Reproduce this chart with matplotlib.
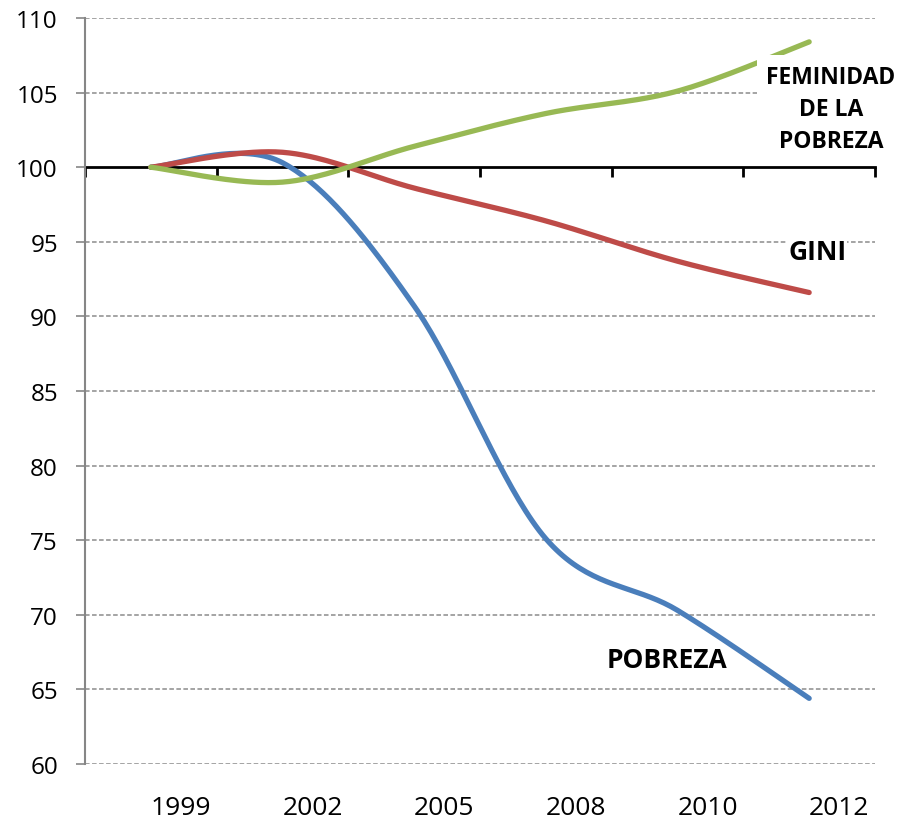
import matplotlib
matplotlib.use("Agg")
import matplotlib.pyplot as plt
import numpy as np

plt.rcParams['font.family'] = ['Open Sans', 'DejaVu Sans']

# datos (indice base 1999 = 100)
years = ['1999', '2002', '2005', '2008', '2010', '2012']
pobreza = [100.0, 100.3, 90.7, 75.1, 70.3, 64.4]
gini = [100.0, 101.0, 98.6, 96.4, 93.7, 91.6]
feminidad = [100.0, 99.0, 101.4, 103.6, 105.1, 108.4]

blue = '#4A7EBB'
red = '#BE4B48'
green = '#98B954'
grid_gray = '#8C8C8C'


def excel_smooth(xs, ys, n=40):
    # curva suavizada tipo Excel (bezier con puntos de control a 1/6)
    pts = np.column_stack([xs, ys]).astype(float)
    P = np.vstack([pts[0], pts, pts[-1]])
    out = []
    t = np.linspace(0, 1, n)[:, None]
    for i in range(1, len(P) - 2):
        p0, p1, p2, p3 = P[i - 1], P[i], P[i + 1], P[i + 2]
        c1 = p1 + (p2 - p0) / 6
        c2 = p2 - (p3 - p1) / 6
        seg = (1 - t)**3 * p1 + 3 * (1 - t)**2 * t * c1 + 3 * (1 - t) * t**2 * c2 + t**3 * p2
        out.append(seg if i == 1 else seg[1:])
    s = np.vstack(out)
    return s[:, 0], s[:, 1]


fig = plt.figure(figsize=(8.99, 8.2), dpi=100)
ax = fig.add_axes([85 / 899, 1 - 765 / 820, (875 - 85) / 899, (765 - 19) / 820])

x = np.arange(len(years))
ax.set_xlim(-0.5, len(years) - 0.5)
ax.set_ylim(60, 110)

# rejilla
for v in range(60, 111, 5):
    if v != 100:
        ax.axhline(v, color=grid_gray, lw=1.1, dashes=(3, 1.6), zorder=1)

# eje x en 100
ax.spines['top'].set_visible(False)
ax.spines['right'].set_visible(False)
ax.spines['bottom'].set_position(('data', 100))
ax.spines['bottom'].set_color('black')
ax.spines['bottom'].set_linewidth(2)
ax.spines['bottom'].set_zorder(2)
ax.spines['left'].set_color('#868686')
ax.spines['left'].set_linewidth(1.5)
ax.set_xticks(np.arange(-0.5, len(years), 1.0))
ax.tick_params(axis='x', direction='out', length=7, width=2, color='black', labelbottom=False)

ax.set_yticks(range(60, 111, 5))
ax.tick_params(axis='y', direction='out', length=6.5, width=1.2, color='#868686', pad=13, labelsize=17.5)

sec = ax.secondary_xaxis(0.0)
sec.set_xticks(x)
sec.set_xticklabels(years, ha='left')
sec.tick_params(length=0, pad=22, labelsize=19)
sec.spines['bottom'].set_visible(False)

for vals, col in [(pobreza, blue), (gini, red), (feminidad, green)]:
    sx, sy = excel_smooth(x, vals)
    ax.plot(sx, sy, color=col, lw=3.8, solid_capstyle='round', zorder=3)

ax.text(5.166, 103.9, 'FEMINIDAD\nDE LA\nPOBREZA', ha='center', va='center', fontsize=16.5,
        fontweight='bold', linespacing=1.45, zorder=5,
        bbox=dict(facecolor='white', edgecolor='none', pad=7))
ax.text(5.06, 94.35, 'GINI', ha='center', va='center', fontsize=19, fontweight='bold',
        zorder=5, bbox=dict(facecolor='white', edgecolor='none', pad=1))
ax.text(3.92, 67.0, 'POBREZA', ha='center', va='center', fontsize=19, fontweight='bold', zorder=5)

fig.savefig('out.png', dpi=100)
